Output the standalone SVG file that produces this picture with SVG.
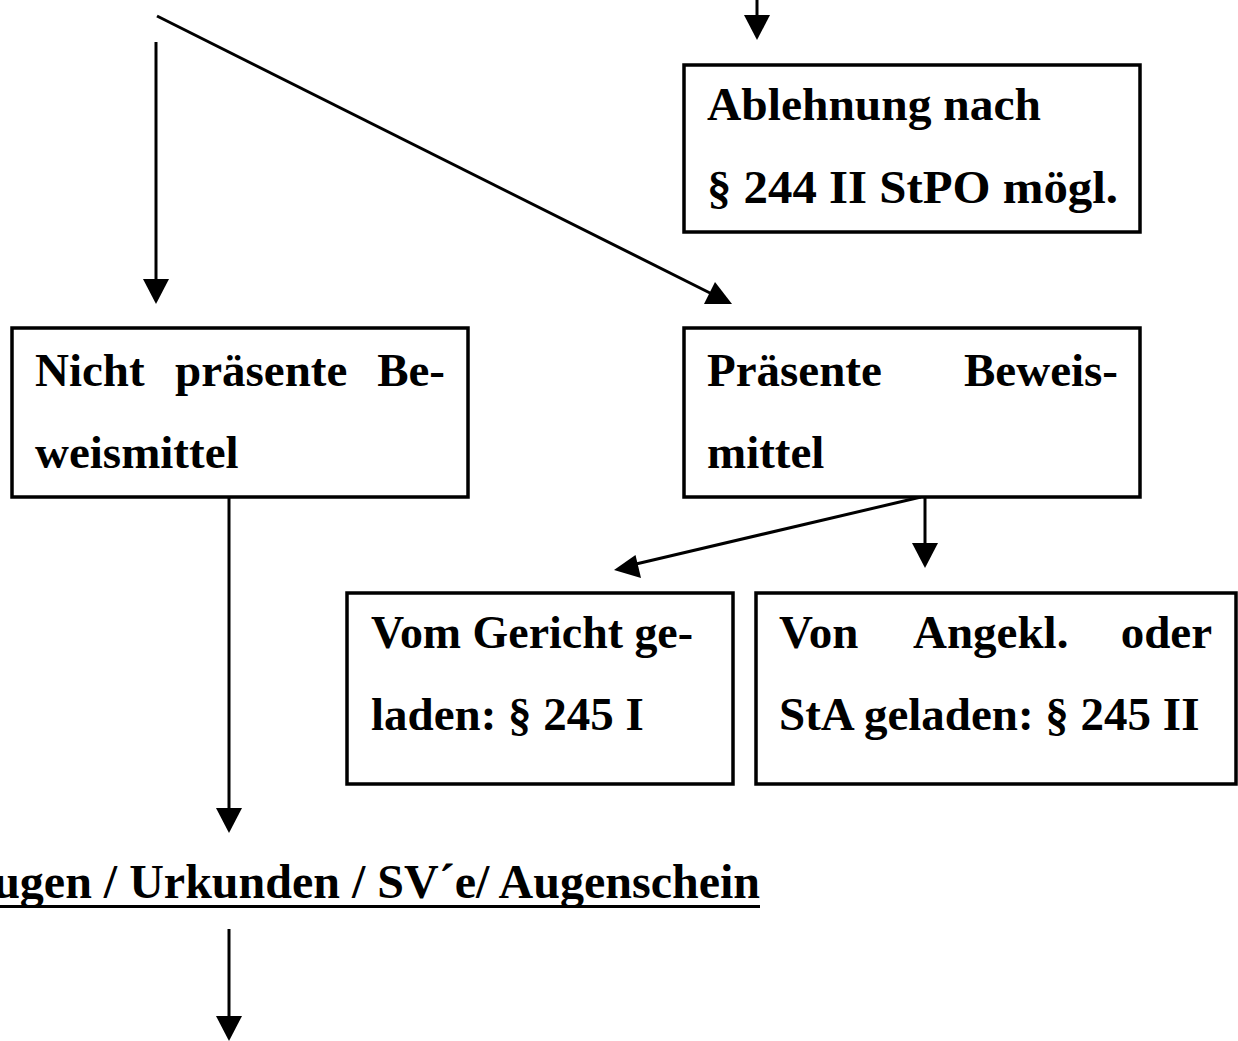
<svg xmlns="http://www.w3.org/2000/svg" width="1238" height="1041" viewBox="0 0 1238 1041">
<style>
  .box { fill: #fff; stroke: #000; stroke-width: 3.5; }
  .t { font-family: "Liberation Serif", "Times New Roman", serif; font-weight: bold; font-size: 47px; fill: #000; }
  .ln { stroke: #000; stroke-width: 3; fill: none; }
  .hd { fill: #000; stroke: none; }
</style>
<rect width="1238" height="1041" fill="#fff"/>
<g id="connectors">
  <line class="ln" x1="757" y1="0" x2="757" y2="18"/>
  <polygon class="hd" points="744,15 770,15 757,40"/>
  <line class="ln" x1="156" y1="42" x2="156" y2="281"/>
  <polygon class="hd" points="143,279 169,279 156,304"/>
  <line class="ln" x1="157" y1="16" x2="712" y2="294"/>
  <polygon class="hd" points="732,304 704,304 715,282"/>
  <line class="ln" x1="229" y1="497" x2="229" y2="810"/>
  <polygon class="hd" points="216,808 242,808 229,833"/>
  <line class="ln" x1="229" y1="929" x2="229" y2="1018"/>
  <polygon class="hd" points="216,1016 242,1016 229,1041"/>
  <line class="ln" x1="925" y1="497" x2="925" y2="545"/>
  <polygon class="hd" points="912,543 938,543 925,568"/>
  <line class="ln" x1="921" y1="497" x2="636" y2="564"/>
  <polygon class="hd" points="614,570 635.5,555 641,578"/>
</g>
<g id="node-ablehnung">
  <rect class="box" x="684" y="65" width="456" height="167"/>
  <text class="t" x="707" y="120" textLength="334" lengthAdjust="spacingAndGlyphs">Ablehnung nach</text>
  <text class="t" x="707" y="203" textLength="411" lengthAdjust="spacingAndGlyphs">§ 244 II StPO mögl.</text>
</g>
<g id="node-nicht-praesent">
  <rect class="box" x="12" y="328" width="456" height="169"/>
  <text class="t" x="35" y="386">Nicht</text>
  <text class="t" x="175" y="386">präsente</text>
  <text class="t" x="445" y="386" text-anchor="end">Be-</text>
  <text class="t" x="35" y="468">weismittel</text>
</g>
<g id="node-praesent">
  <rect class="box" x="684" y="328" width="456" height="169"/>
  <text class="t" x="707" y="386">Präsente</text>
  <text class="t" x="1118" y="386" text-anchor="end">Beweis-</text>
  <text class="t" x="707" y="468">mittel</text>
</g>
<g id="node-gericht">
  <rect class="box" x="347" y="593" width="386" height="191"/>
  <text class="t" x="371" y="648" textLength="322" lengthAdjust="spacingAndGlyphs">Vom Gericht ge-</text>
  <text class="t" x="371" y="730">laden: § 245 I</text>
</g>
<g id="node-angekl">
  <rect class="box" x="756" y="593" width="480" height="191"/>
  <text class="t" x="779" y="648">Von</text>
  <text class="t" x="913" y="648">Angekl.</text>
  <text class="t" x="1212" y="648" text-anchor="end">oder</text>
  <text class="t" x="779" y="730">StA geladen: § 245 II</text>
</g>
<g id="node-beweismittel">
  <text class="t" x="760" y="898" text-anchor="end" style="font-size:48px">Zeugen / Urkunden / SV´e/ Augenschein</text>
  <line x1="0" y1="906.5" x2="760" y2="906.5" stroke="#000" stroke-width="3"/>
</g>
</svg>
